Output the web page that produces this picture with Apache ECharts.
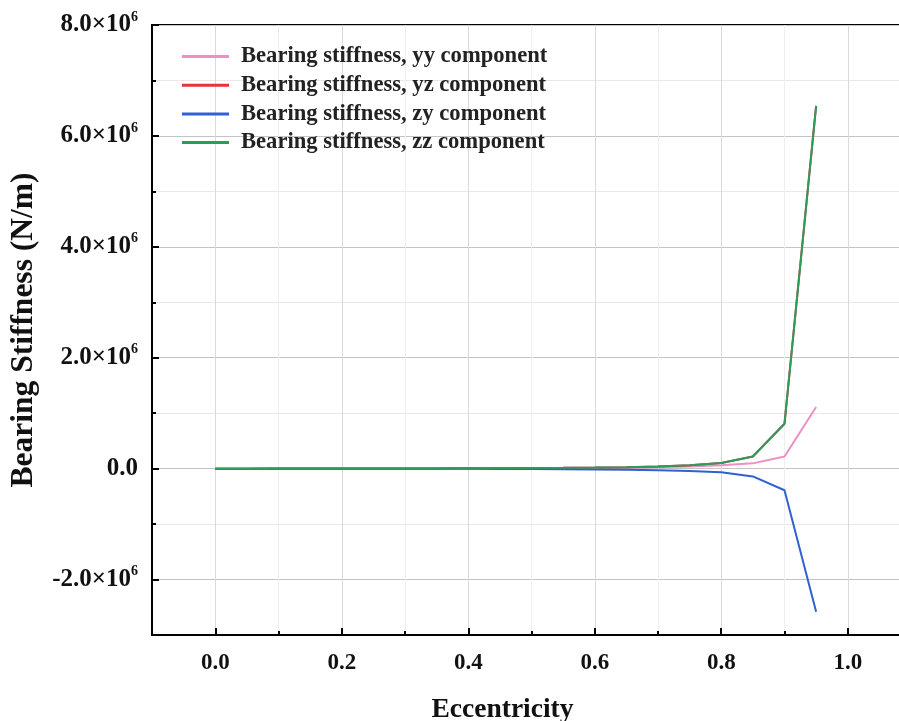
<!DOCTYPE html>
<html>
<head>
<meta charset="utf-8">
<script src="https://cdn.jsdelivr.net/npm/echarts@6/dist/echarts.min.js"></script>
<style>html,body{margin:0;padding:0;background:#fff;}#c{width:899px;height:721px;}</style>
</head>
<body>
<div id="c"></div>
<script>
// Data
const eccentricity = [0, 0.05, 0.1, 0.15, 0.2, 0.25, 0.3, 0.35, 0.4, 0.45, 0.5, 0.55, 0.6, 0.65, 0.7, 0.75, 0.8, 0.85, 0.9, 0.95];
const kyy = [0, 100, 300, 600, 1000, 1500, 2200, 3000, 4000, 5500, 7000, 9500, 13000, 18000, 26000, 40000, 60000, 95000, 220000, 1110000];
const kyz = [0, 100, 300, 700, 1200, 1900, 2800, 4000, 5500, 7500, 10000, 14000, 19000, 27000, 40000, 60000, 100000, 220000, 810000, 6540000];
const kzy = [0, -100, -300, -600, -1000, -1500, -2200, -3000, -4200, -5700, -7500, -10000, -14000, -20000, -29000, -42000, -65000, -140000, -390000, -2580000];
const kzz = [0, 100, 300, 700, 1200, 1900, 2800, 4000, 5500, 7500, 10000, 14000, 19000, 27000, 40000, 60000, 100000, 220000, 810000, 6540000];
const seriesNames = ['Bearing stiffness, yy component', 'Bearing stiffness, yz component', 'Bearing stiffness, zy component', 'Bearing stiffness, zz component'];
const xMajorTicks = [0, 0.2, 0.4, 0.6, 0.8, 1.0];
const xMinorTicks = [0.1, 0.3, 0.5, 0.7, 0.9];
const yMajorTicks = [-2e6, 0, 2e6, 4e6, 6e6, 8e6];
const yMinorTicks = [-1e6, 1e6, 3e6, 5e6, 7e6];

const FONT = '"Liberation Serif", "Times New Roman", serif';
const colors = ['#ee8fc4', '#e8323c', '#2f62d0', '#2b9c5a'];
const dataSets = [kyy, kyz, kzy, kzz];

const chart = echarts.init(document.getElementById('c'), null, {renderer: 'canvas'});
const mk = (arr) => eccentricity.map((x, i) => [x, arr[i]]);

const option = {
  backgroundColor: '#fff',
  animation: false,
  grid: {left: 152, top: 25, width: 759, height: 610, outerBoundsMode: 'none', containLabel: false,
    show: true, borderColor: '#000', borderWidth: 2, backgroundColor: 'transparent'},
  legend: {
    orient: 'vertical', left: 182, top: 45, padding: 0, itemWidth: 47, itemHeight: 3, itemGap: 5.7, icon: 'rect',
    data: seriesNames,
    textStyle: {fontFamily: FONT, fontWeight: 'bold', fontSize: 22.6, color: '#222', padding: [0, 0, 0, 7]}
  },
  xAxis: [
    {
      type: 'value', min: -0.1, max: 1.1, position: 'bottom',
      name: 'Eccentricity', nameLocation: 'middle', nameGap: 61,
      nameTextStyle: {fontFamily: FONT, fontWeight: 'bold', fontSize: 27.5, color: '#111', padding: [0, 58, 0, 0]},
      axisLine: {show: true, onZero: false, lineStyle: {color: '#000', width: 2}},
      axisTick: {show: true, inside: true, length: 7, lineStyle: {color: '#000', width: 2}, customValues: xMajorTicks},
      axisLabel: {show: true, customValues: xMajorTicks, margin: 17, fontFamily: FONT, fontWeight: 'bold', fontSize: 23, color: '#111',
        formatter: (v) => v.toFixed(1)},
      splitLine: {show: true, lineStyle: {color: '#dadada', width: 1}}
    },
    {
      type: 'value', min: -0.1, max: 1.1, position: 'bottom',
      axisLine: {show: false, onZero: false},
      axisTick: {show: true, inside: true, length: 4, lineStyle: {color: '#000', width: 2}, customValues: xMinorTicks},
      axisLabel: {show: false},
      splitLine: {show: true, lineStyle: {color: '#efefef', width: 1}}
    }
  ],
  yAxis: [
    {
      type: 'value', min: -3e6, max: 8e6, position: 'left',
      name: 'Bearing Stiffness (N/m)', nameLocation: 'middle', nameGap: 112,
      nameTextStyle: {fontFamily: FONT, fontWeight: 'bold', fontSize: 31.5, color: '#111'},
      axisLine: {show: true, onZero: false, lineStyle: {color: '#000', width: 2}},
      axisTick: {show: true, inside: true, length: 7, lineStyle: {color: '#000', width: 2}, customValues: yMajorTicks},
      axisLabel: {show: true, customValues: yMajorTicks, margin: 14, color: '#111',
        formatter: (v) => v === 0 ? '{a|0.0}' : '{a|' + (v / 1e6).toFixed(1) + '×10}{s|6}',
        rich: {
          a: {fontFamily: FONT, fontWeight: 'bold', fontSize: 25, color: '#111'},
          s: {fontFamily: FONT, fontWeight: 'bold', fontSize: 14, color: '#111', padding: [0, 0, 16, 0]}
        }},
      splitLine: {show: true, lineStyle: {color: '#c4c4c4', width: 1}}
    },
    {
      type: 'value', min: -3e6, max: 8e6, position: 'left',
      axisLine: {show: false, onZero: false},
      axisTick: {show: true, inside: true, length: 4, lineStyle: {color: '#000', width: 2}, customValues: yMinorTicks},
      axisLabel: {show: false},
      splitLine: {show: true, lineStyle: {color: '#e8e8e8', width: 1}}
    }
  ],
  series: seriesNames.map((name, i) => ({
    name: name, type: 'line', xAxisIndex: 0, yAxisIndex: 0,
    data: mk(dataSets[i]), symbol: 'none', showSymbol: false,
    lineStyle: {color: colors[i], width: 2}, itemStyle: {color: colors[i]}, z: 3 + i
  }))
};
chart.setOption(option);
</script>
</body>
</html>
